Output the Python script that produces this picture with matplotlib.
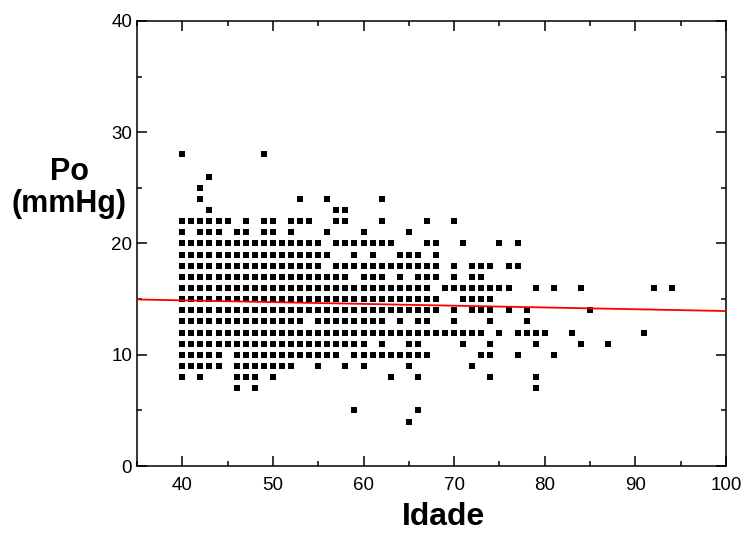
import numpy as np
from matplotlib import pyplot as plt
from matplotlib.ticker import MultipleLocator

plt.rcParams['font.family'] = ['Liberation Sans', 'DejaVu Sans']

# ages (Idade) observed at each pressure level (Po, mmHg)
po_28 = [40, 49]
po_26 = [43]
po_25 = [42]
po_24 = [42, 53, 56, 62]
po_23 = [43, 57, 58]
po_22 = [40, 41, 42, 43, 44, 45, 47, 49, 50, 52, 53, 54, 57, 58, 62, 67, 70]
po_21 = [40, 42, 43, 44, 46, 47, 49, 50, 52, 56, 60, 65]
po_20 = [40, 41, 42, 43, 44, 45, 46, 47, 48, 49, 50, 51, 52, 53, 54, 55,
         57, 58, 59, 60, 61, 62, 63, 67, 68, 71, 75, 77]
po_19 = [40, 41, 42, 43, 44, 45, 46, 47, 48, 49, 50, 51, 52, 53, 54, 55, 56,
         59, 61, 64, 65, 66, 68]
po_18 = [40, 41, 42, 43, 44, 45, 46, 47, 48, 49, 50, 51, 52, 53, 54, 55,
         57, 58, 59, 60, 61, 62, 63, 64, 65, 66, 67, 68, 70, 72, 73, 74, 76, 77]
po_17 = [40, 41, 42, 43, 44, 45, 46, 47, 48, 49, 50, 51, 52, 53, 54, 55, 56,
         57, 58, 60, 61, 62, 64, 66, 67, 68, 70, 72, 73]
po_16 = [40, 41, 42, 43, 44, 45, 46, 47, 48, 49, 50, 51, 52, 53, 54, 55, 56,
         57, 58, 59, 60, 61, 62, 63, 64, 65, 66, 67, 69, 70, 71, 72, 73, 74,
         75, 76, 79, 81, 84, 92, 94]
po_15 = [40, 41, 42, 43, 44, 45, 46, 47, 48, 49, 50, 51, 52, 53, 54, 55, 56,
         57, 58, 59, 60, 61, 62, 63, 64, 65, 66, 67, 68, 71, 72, 73, 74]
po_14 = [40, 41, 42, 43, 44, 45, 46, 47, 48, 49, 50, 51, 52, 53, 54, 55, 56,
         57, 58, 59, 60, 61, 62, 63, 64, 65, 66, 67, 68, 70, 72, 73, 74, 76,
         78, 85]
po_13 = [40, 41, 42, 43, 44, 45, 46, 47, 48, 49, 50, 51, 52, 53, 55, 56, 57,
         58, 59, 60, 61, 62, 64, 66, 67, 70, 74, 78]
po_12 = [40, 41, 42, 43, 44, 45, 46, 47, 48, 49, 50, 51, 52, 53, 54, 55, 56,
         57, 58, 59, 60, 61, 62, 63, 64, 65, 66, 67, 68, 69, 70, 71, 72, 73,
         75, 77, 78, 79, 80, 83, 91]
po_11 = [40, 41, 42, 43, 44, 45, 46, 47, 48, 49, 50, 51, 52, 53, 54, 55, 56,
         57, 58, 59, 60, 62, 65, 66, 71, 74, 79, 84, 87]
po_10 = [40, 41, 42, 43, 44, 46, 47, 48, 49, 50, 51, 52, 53, 54, 55, 56, 57,
         59, 60, 61, 62, 63, 64, 65, 66, 67, 73, 74, 77, 81]
po_9 = [40, 41, 42, 43, 44, 46, 47, 48, 49, 50, 51, 52, 55, 58, 60, 65, 72]
po_8 = [40, 42, 46, 47, 48, 50, 63, 66, 74, 79]
po_7 = [46, 48, 79]
po_5 = [59, 66]
po_4 = [65]

levels = {28: po_28, 26: po_26, 25: po_25, 24: po_24, 23: po_23, 22: po_22,
          21: po_21, 20: po_20, 19: po_19, 18: po_18, 17: po_17, 16: po_16,
          15: po_15, 14: po_14, 13: po_13, 12: po_12, 11: po_11, 10: po_10,
          9: po_9, 8: po_8, 7: po_7, 5: po_5, 4: po_4}

# regression line
fit_intercept = 15.53
fit_slope = -0.016

idade = []
po = []
for p, ages in levels.items():
    idade += ages
    po += [p] * len(ages)

fig = plt.figure(figsize=(7.46, 5.38), dpi=100)
ax = fig.add_axes([0.1836, 0.1338, 0.7896, 0.8272])

ax.scatter(idade, po, marker='s', s=22, c='black', linewidths=0, zorder=3)

xl = np.array([35, 100])
ax.plot(xl, fit_intercept + fit_slope * xl, color='red', lw=1.3, zorder=4)

ax.set_xlim(35, 100)
ax.set_ylim(0, 40)
ax.xaxis.set_major_locator(MultipleLocator(10))
ax.xaxis.set_minor_locator(MultipleLocator(5))
ax.yaxis.set_major_locator(MultipleLocator(10))
ax.yaxis.set_minor_locator(MultipleLocator(5))
ax.tick_params(which='both', direction='in', top=True, right=True,
               width=1.1, labelsize=13.5)
ax.tick_params(which='major', length=7)
ax.tick_params(which='minor', length=3.5)
ax.tick_params(axis='x', pad=8)
for s in ax.spines.values():
    s.set_linewidth(1.1)

ax.set_xlabel('Idade', fontsize=23, fontweight='bold', va='center')
ax.xaxis.set_label_coords(0.52, -0.115)
ax.set_ylabel('Po\n(mmHg)', fontsize=22, fontweight='bold', rotation=0,
              ha='center', va='center', multialignment='center',
              linespacing=1.1)
ax.yaxis.set_label_coords(-0.115, 0.625)

fig.savefig('out.png', dpi=100)
